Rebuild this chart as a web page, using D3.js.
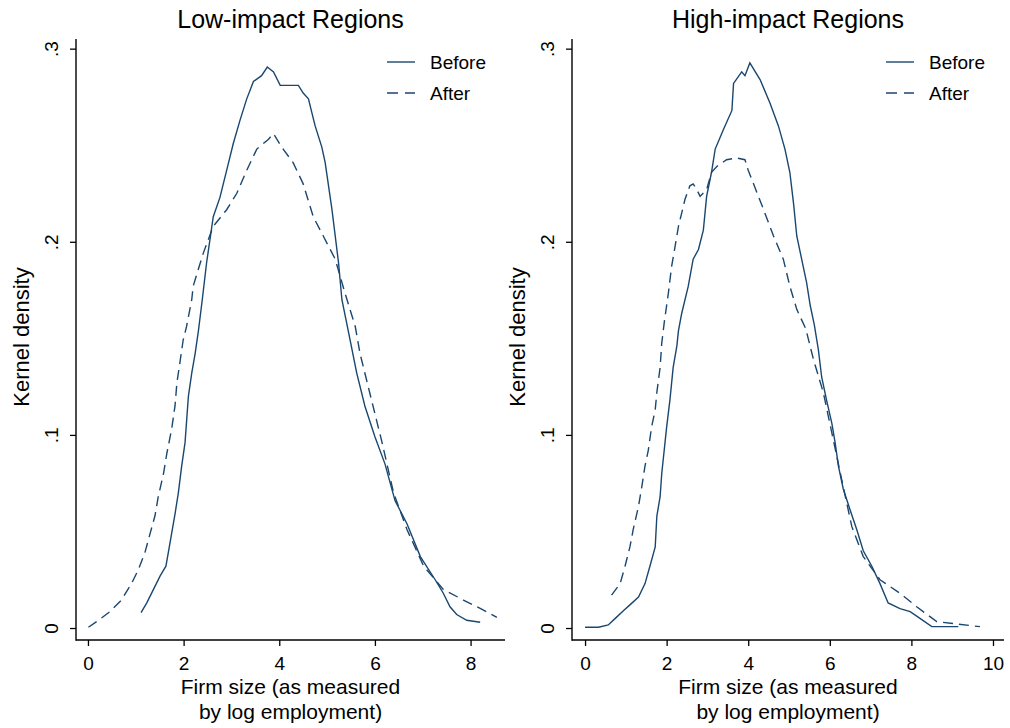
<!DOCTYPE html>
<html>
<head>
<meta charset="utf-8">
<script src="https://cdn.jsdelivr.net/npm/d3@7"></script>
<style>
  body { margin: 0; background: #fff; }
  svg { font-family: "Liberation Sans", Arial, sans-serif; }
</style>
</head>
<body>
<div id="chart"></div>
<script>
// kernel density estimates: [log employment, density]
const lowBefore = [[1.11,0.008],[1.23,0.013],[1.37,0.020],[1.51,0.027],[1.63,0.032],[1.68,0.039],[1.75,0.049],[1.82,0.059],[1.89,0.070],[1.96,0.084],[2.03,0.096],[2.10,0.120],[2.17,0.132],[2.24,0.142],[2.31,0.154],[2.39,0.170],[2.48,0.189],[2.62,0.213],[2.76,0.223],[2.90,0.237],[3.04,0.251],[3.18,0.263],[3.32,0.274],[3.46,0.283],[3.63,0.286],[3.75,0.2905],[3.88,0.288],[4.02,0.281],[4.16,0.281],[4.29,0.281],[4.40,0.281],[4.50,0.277],[4.61,0.274],[4.75,0.260],[4.89,0.249],[4.96,0.241],[5.10,0.217],[5.24,0.189],[5.31,0.170],[5.45,0.153],[5.62,0.132],[5.79,0.115],[6.00,0.099],[6.21,0.085],[6.42,0.066],[6.67,0.054],[6.95,0.037],[7.26,0.025],[7.43,0.018],[7.57,0.011],[7.71,0.007],[7.92,0.004],[8.20,0.003]];
const lowAfter = [[0.01,0.0004],[0.18,0.0033],[0.46,0.0085],[0.70,0.0145],[0.91,0.023],[1.05,0.030],[1.19,0.039],[1.30,0.049],[1.40,0.058],[1.47,0.068],[1.58,0.080],[1.65,0.0905],[1.75,0.103],[1.82,0.115],[1.86,0.127],[1.92,0.137],[1.99,0.149],[2.06,0.156],[2.17,0.170],[2.20,0.177],[2.41,0.194],[2.62,0.208],[2.90,0.2166],[3.11,0.225],[3.32,0.237],[3.53,0.248],[3.77,0.253],[3.88,0.256],[4.05,0.249],[4.29,0.241],[4.50,0.230],[4.71,0.213],[4.92,0.203],[5.17,0.191],[5.38,0.173],[5.59,0.156],[5.69,0.142],[5.93,0.118],[6.14,0.097],[6.39,0.070],[6.67,0.051],[7.02,0.032],[7.43,0.020],[7.85,0.0145],[8.27,0.0093],[8.55,0.0055]];
const highBefore = [[0.00,0.0004],[0.33,0.0004],[0.57,0.0016],[0.74,0.005],[0.94,0.009],[1.10,0.012],[1.31,0.016],[1.47,0.023],[1.59,0.032],[1.72,0.042],[1.76,0.058],[1.84,0.068],[1.88,0.080],[1.96,0.096],[2.00,0.104],[2.08,0.118],[2.16,0.135],[2.25,0.146],[2.29,0.154],[2.37,0.163],[2.53,0.177],[2.65,0.191],[2.78,0.196],[2.90,0.206],[2.98,0.2235],[3.10,0.236],[3.19,0.248],[3.39,0.258],[3.60,0.268],[3.64,0.282],[3.84,0.288],[3.92,0.286],[4.04,0.2926],[4.29,0.284],[4.53,0.272],[4.74,0.260],[4.90,0.248],[5.02,0.236],[5.11,0.220],[5.19,0.203],[5.43,0.179],[5.52,0.167],[5.62,0.157],[5.72,0.144],[5.80,0.130],[5.92,0.118],[6.05,0.106],[6.13,0.096],[6.21,0.084],[6.33,0.072],[6.50,0.061],[6.66,0.051],[6.82,0.040],[7.03,0.032],[7.23,0.023],[7.43,0.013],[7.72,0.010],[7.97,0.0085],[8.21,0.005],[8.50,0.0007],[9.15,0.0007]];
const highAfter = [[0.65,0.017],[0.86,0.023],[0.98,0.032],[1.10,0.042],[1.18,0.051],[1.31,0.063],[1.39,0.073],[1.47,0.084],[1.55,0.092],[1.63,0.104],[1.72,0.113],[1.76,0.122],[1.84,0.135],[1.88,0.1475],[1.94,0.158],[2.04,0.173],[2.12,0.187],[2.21,0.198],[2.29,0.208],[2.37,0.215],[2.45,0.222],[2.57,0.229],[2.65,0.230],[2.74,0.227],[2.82,0.2235],[2.98,0.227],[3.10,0.236],[3.23,0.239],[3.47,0.2425],[3.72,0.2434],[3.92,0.2425],[4.00,0.237],[4.13,0.230],[4.37,0.217],[4.62,0.203],[4.86,0.191],[5.02,0.177],[5.19,0.165],[5.41,0.155],[5.60,0.139],[5.84,0.122],[6.05,0.101],[6.29,0.077],[6.54,0.0525],[6.82,0.037],[7.23,0.025],[7.72,0.018],[8.13,0.011],[8.62,0.0033],[9.11,0.0021],[9.68,0.0007]];

const panelTitles = ["Low-impact Regions", "High-impact Regions"];
const seriesNames = ["Before", "After"];
const lowXTicks = [0, 2, 4, 6, 8];
const highXTicks = [0, 2, 4, 6, 8, 10];
const yTicks = [0, 0.1, 0.2, 0.3];

const W = 1010, H = 728;
const lineColor = "#1a476f";

const svg = d3.select("#chart").append("svg")
    .attr("width", W)
    .attr("height", H);

//y scale is shared by both panels
const y = d3.scaleLinear().domain([-0.0062, 0.305]).range([640, 39]);

const panels = [
    { title: panelTitles[0], left: 76, right: 505, xDomain: [-0.25, 8.72], ticks: lowXTicks, before: lowBefore, after: lowAfter },
    { title: panelTitles[1], left: 572, right: 1004, xDomain: [-0.32, 10.27], ticks: highXTicks, before: highBefore, after: highAfter }
];

const fmtY = d => d === 0 ? "0" : d3.format(".1f")(d).replace(/^0/, "");

panels.forEach(p => {
    const x = d3.scaleLinear().domain(p.xDomain).range([p.left, p.right]);
    const g = svg.append("g");

    // title
    g.append("text")
        .attr("x", (p.left + p.right) / 2)
        .attr("y", 28)
        .attr("text-anchor", "middle")
        .style("font-size", "25px")
        .text(p.title);

    // y axis
    const yAxis = g.append("g")
        .attr("transform", "translate(" + p.left + ",0)")
        .call(d3.axisLeft(y).tickValues(yTicks).tickSize(6).tickFormat(fmtY));
    yAxis.select(".domain").remove();
    yAxis.selectAll(".tick line").attr("stroke", "#000").attr("stroke-width", 1.3);
    yAxis.selectAll(".tick text")
        .attr("x", null).attr("dy", null)
        .attr("text-anchor", "middle")
        .attr("transform", "translate(-18,0) rotate(-90)")
        .style("font-size", "19px")
        .attr("fill", "#000");

    // x axis
    const xAxis = g.append("g")
        .attr("transform", "translate(0,640)")
        .call(d3.axisBottom(x).tickValues(p.ticks).tickSize(6).tickPadding(11).tickFormat(d3.format("d")));
    xAxis.select(".domain").remove();
    xAxis.selectAll(".tick line").attr("stroke", "#000").attr("stroke-width", 1.3);
    xAxis.selectAll(".tick text").style("font-size", "19px").attr("fill", "#000");

    // axis lines
    g.append("line")
        .attr("x1", p.left).attr("x2", p.left)
        .attr("y1", 39).attr("y2", 640.7)
        .attr("stroke", "#000").attr("stroke-width", 1.4);
    g.append("line")
        .attr("x1", p.left).attr("x2", p.right)
        .attr("y1", 640).attr("y2", 640)
        .attr("stroke", "#000").attr("stroke-width", 1.4);

    // axis titles
    g.append("text")
        .attr("transform", "translate(" + (p.left - 47) + ",337) rotate(-90)")
        .attr("text-anchor", "middle")
        .style("font-size", "22px")
        .text("Kernel density");
    const cx = (p.left + p.right) / 2;
    g.append("text")
        .attr("x", cx).attr("y", 694)
        .attr("text-anchor", "middle")
        .style("font-size", "21px")
        .text("Firm size (as measured");
    g.append("text")
        .attr("x", cx).attr("y", 719)
        .attr("text-anchor", "middle")
        .style("font-size", "21px")
        .text("by log employment)");

    // density lines
    const line = d3.line()
        .x(d => x(d[0]))
        .y(d => y(d[1]))
        .curve(d3.curveLinear);

    g.append("path")
        .datum(p.before)
        .attr("d", line)
        .attr("fill", "none")
        .attr("stroke", lineColor)
        .attr("stroke-width", 1.4);
    g.append("path")
        .datum(p.after)
        .attr("d", line)
        .attr("fill", "none")
        .attr("stroke", lineColor)
        .attr("stroke-width", 1.4)
        .attr("stroke-dasharray", "10,6");

    // legend
    const lx = p.right - 118;
    seriesNames.forEach((name, i) => {
        const ly = 62 + i * 31;
        g.append("line")
            .attr("x1", lx).attr("x2", lx + 28)
            .attr("y1", ly).attr("y2", ly)
            .attr("stroke", lineColor)
            .attr("stroke-width", 1.4)
            .attr("stroke-dasharray", i === 1 ? "11,7" : null);
        g.append("text")
            .attr("x", lx + 43)
            .attr("y", ly + 7)
            .style("font-size", "19px")
            .text(name);
    });
});
</script>
</body>
</html>
